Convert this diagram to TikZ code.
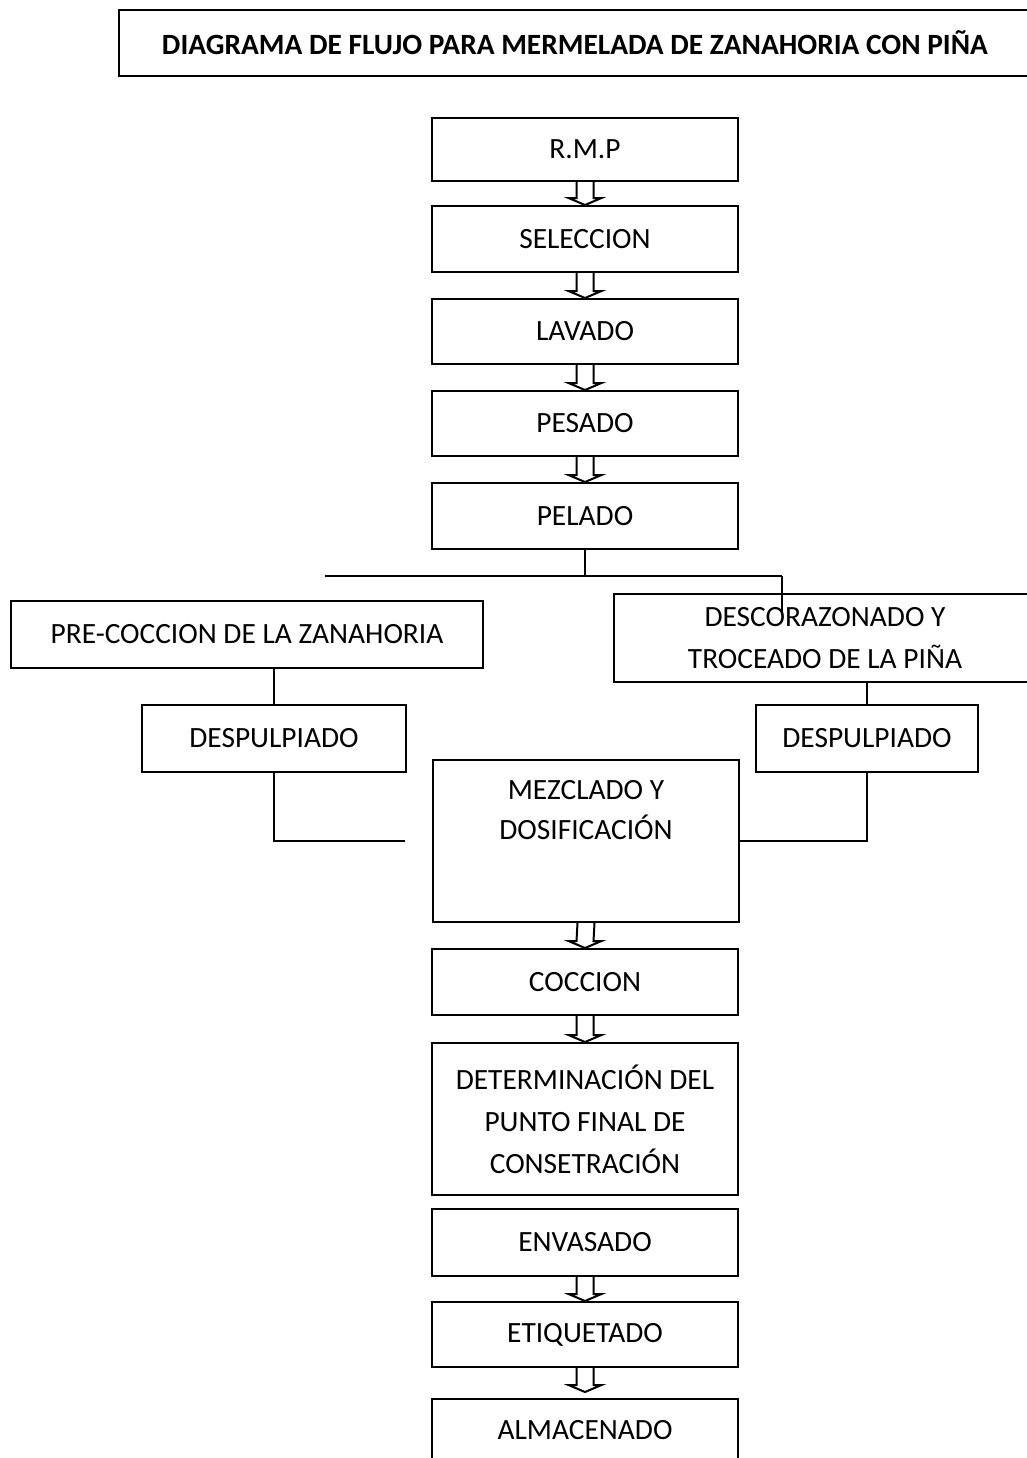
\documentclass[tikz,border=0pt]{standalone}
\usepackage{fontspec}
\setmainfont{Carlito}
\usetikzlibrary{calc}

\tikzset{
  caja/.style={draw, line width=1pt, inner sep=0pt, align=center,
    font=\fontsize{14.7}{21}\selectfont},
  texto/.style={inner sep=0pt, align=center, font=\fontsize{14.7}{20}\selectfont},
  linea/.style={line width=1pt},
  flecha/.style={line width=1pt}
}
% open block arrow from the bottom of #1 down to the point #2
\newcommand{\flechadoble}[2]{%
  \draw[flecha] ($(#1.south)+(-8.5,0)$) -- ($(#2)+(-8.5,-7)$) -- ($(#2)+(-16.5,-7)$)
    -- (#2) -- ($(#2)+(16.5,-7)$) -- ($(#2)+(8.5,-7)$) -- ($(#1.south)+(8.5,0)$);}

\begin{document}
\begin{tikzpicture}[x=0.5pt, y=-0.5pt]
  \useasboundingbox (0,0) rectangle (1027,1458);
  % title
  \node[caja, minimum width=456pt, minimum height=33pt, font=\fontsize{14.7}{21}\selectfont\bfseries] (tit) at (575,43) {DIAGRAMA DE FLUJO PARA MERMELADA DE ZANAHORIA CON PIÑA};
  % main column
  \node[caja, minimum width=153pt, minimum height=31.5pt] (rmp) at (585,149.5) {R.M.P};
  \node[caja, minimum width=153pt, minimum height=33pt] (sel) at (585,239) {SELECCION};
  \node[caja, minimum width=153pt, minimum height=32.5pt] (lav) at (585,331.5) {LAVADO};
  \node[caja, minimum width=153pt, minimum height=32.5pt] (pes) at (585,423.5) {PESADO};
  \node[caja, minimum width=153pt, minimum height=33pt] (pel) at (585,516) {PELADO};
  % branches
  \node[caja, minimum width=236pt, minimum height=33.5pt] (pre) at (247,634.5) {PRE-COCCION DE LA ZANAHORIA};
  \node[caja, minimum width=211pt, minimum height=44pt] (desc) at (825,638) {DESCORAZONADO Y\\TROCEADO DE LA PIÑA};
  \node[caja, minimum width=132pt, minimum height=33.5pt] (despI) at (274,738.5) {DESPULPIADO};
  \node[caja, minimum width=111pt, minimum height=33.5pt] (despD) at (867,738.5) {DESPULPIADO};
  \node[caja, minimum width=153pt, minimum height=81pt] (mez) at (586,841) {};
  \node[texto] (mezt) at (586,810) {MEZCLADO Y\\DOSIFICACIÓN};
  % lower column
  \node[caja, minimum width=153pt, minimum height=33pt] (coc) at (585,982) {COCCION};
  \node[caja, minimum width=153pt, minimum height=76pt] (det) at (585,1119) {DETERMINACIÓN DEL\\PUNTO FINAL DE\\CONSETRACIÓN};
  \node[caja, minimum width=153pt, minimum height=33.5pt] (env) at (585,1242.5) {ENVASADO};
  \node[caja, minimum width=153pt, minimum height=32.5pt] (eti) at (585,1334.5) {ETIQUETADO};
  \node[caja, minimum width=153pt, minimum height=31pt] (alm) at (585,1430) {ALMACENADO};

  % arrows
  \flechadoble{rmp}{sel.north}
  \flechadoble{sel}{lav.north}
  \flechadoble{lav}{pes.north}
  \flechadoble{pes}{pel.north}
  \flechadoble{mez}{coc.north}
  \flechadoble{coc}{det.north}
  \flechadoble{env}{eti.north}
  \coordinate (almtop) at ($(alm.north)+(0,-6)$);
  \flechadoble{eti}{almtop}

  % split after pelado
  \coordinate (ramaI) at (325,576);
  \coordinate (ramaD) at (782,576);
  \draw[linea] (pel.south) -- (pel.south |- ramaI);
  \draw[linea] (ramaI) -- (ramaD);
  \draw[linea] ($(ramaI)+(2,6)$) -- ($(ramaI)+(2,6)$ |- pre.north);
  \draw[linea] (ramaD) -- ++(0,39);
  \draw[linea] (despI.north |- pre.south) -- (despI.north);
  \draw[linea] (despD.north |- desc.south) -- (despD.north);
  % join into mezclado
  \coordinate (finI) at ($(mez.west)+(-27,0)$);
  \draw[linea] (despI.south) |- (finI);
  \draw[linea] (despD.south) |- (mez.east);
\end{tikzpicture}
\end{document}
